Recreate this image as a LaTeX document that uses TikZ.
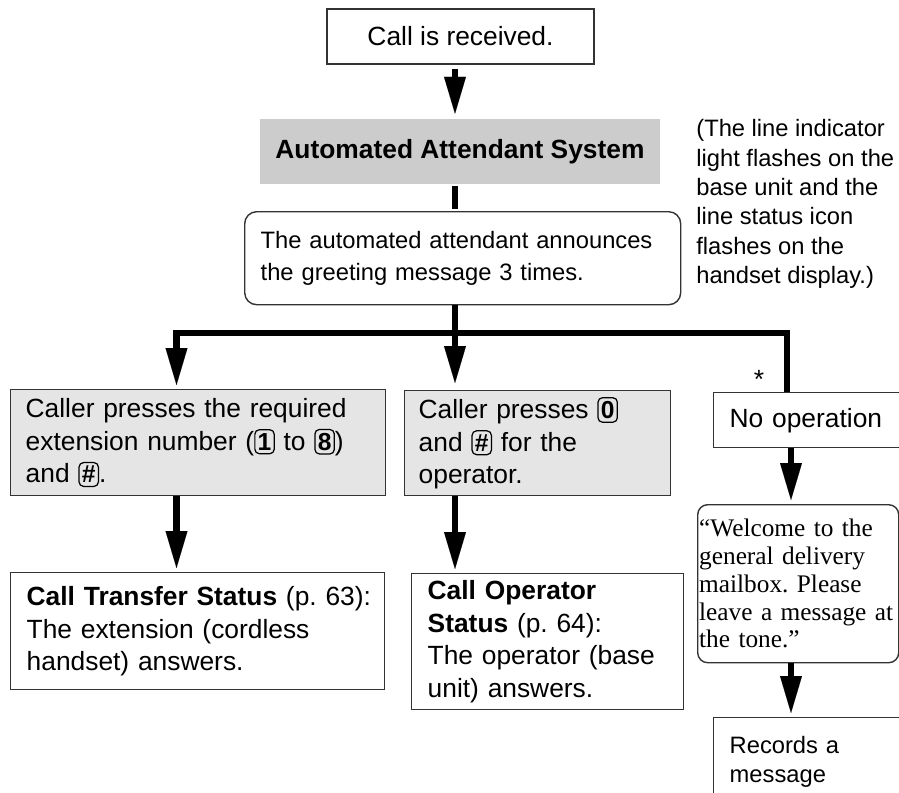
\documentclass[tikz,border=0pt]{standalone}
\usepackage{fontspec}
\setmainfont{Liberation Sans}
\newfontfamily\quotefont{Liberation Serif}
\usetikzlibrary{arrows.meta, positioning}

\newcommand{\fbig}{\frenchspacing\fontsize{15}{18.6}\selectfont}
\newcommand{\fsmall}{\frenchspacing\fontsize{13.5}{16.7}\selectfont}
% key on the handset, drawn as a small rounded box
\newcommand{\keycap}[1]{\tikz[baseline=(k.base)]\node[draw=black, fill=none, text=black,
    line width=0.7pt, rounded corners=2.5pt, inner xsep=1.6pt, inner ysep=2pt,
    minimum width=0pt, minimum height=0pt, text width={}, align=center, anchor=center,
    font=\bfseries\fontsize{14}{14}\selectfont] (k) {#1};}

\begin{document}
\begin{tikzpicture}[
    boxline/.style={draw=black!80, line width=0.8pt},
    textbox/.style={boxline, anchor=north west, align=left, inner ysep=0pt, font=\fbig},
    greybox/.style={textbox, fill=black!10},
    roundbox/.style={boxline, rounded corners=0.24cm, anchor=north west, align=left, inner ysep=0pt},
    bar/.style={line width=3.8pt, black},
    flow/.style={bar, -{Triangle[width=12.5pt, length=21pt, line width=0.01pt]}, shorten >=2.3pt}
]
    \useasboundingbox (0,0) rectangle (17.98,-15.84);

    % top of the chart
    \node[boxline, minimum width=5.34cm, minimum height=1.1cm, font=\fbig] (recv) at (9.21,-0.73) {Call is received.};
    \node[fill=black!20, minimum width=8cm, minimum height=1.3cm, font=\fbig\bfseries] (aas) at (9.2,-3.03) {Automated Attendant System};
    \node[roundbox, text width=8.08cm, inner xsep=0.32cm, minimum height=1.86cm,
          font=\frenchspacing\fontsize{13.5}{18}\selectfont] (annc) at (4.88,-4.22)
          {\mbox{The automated attendant announces}\\\mbox{the greeting message 3 times.}};
    \node[anchor=west, align=left, inner sep=0pt, font=\fsmall] (note) at (13.92,-4.08)
          {(The line indicator\\light flashes on the\\base unit and the\\line status icon\\flashes on the\\handset display.)};

    % the three choices
    \node[greybox, text width=6.9cm, inner xsep=0.3cm, minimum height=2.12cm] (pressA) at (0.2,-7.78)
          {\mbox{Caller presses the required}\\\mbox{extension number (\keycap{1} to \keycap{8})}\\\mbox{and \keycap{\#}.}};
    \node[greybox, text width=4.76cm, inner xsep=0.28cm, minimum height=2.1cm] (pressB) at (8.08,-7.8)
          {\mbox{Caller presses \keycap{0}}\\\mbox{and \keycap{\#} for the}\\operator.};
    \node[textbox, text width=3.2cm, inner xsep=0.32cm, minimum height=1.1cm] (noop) at (14.26,-7.84) {\mbox{No operation}};
    \node[font=\fbig] (star) at (15.18,-7.58) {*};

    % results
    \node[textbox, text width=6.84cm, inner xsep=0.32cm, minimum height=2.34cm] (statA) at (0.2,-11.44)
          {\mbox{\textbf{Call Transfer Status} (p. 63):}\\\mbox{The extension (cordless}\\\mbox{handset) answers.}};
    \node[textbox, text width=4.8cm, inner xsep=0.32cm, minimum height=2.72cm] (statB) at (8.22,-11.46)
          {\textbf{Call Operator}\\\mbox{\textbf{Status} (p. 64):}\\\mbox{The operator (base}\\\mbox{unit) answers.}};
    \node[roundbox, rounded corners=0.2cm, text width=3.96cm, inner xsep=0.03cm, minimum height=3.16cm,
          font=\quotefont\frenchspacing\fontsize{14.4}{15.8}\selectfont] (greet) at (13.94,-10.08)
          {\mbox{“Welcome to the}\\\mbox{general delivery}\\\mbox{mailbox. Please}\\\mbox{leave a message at}\\\mbox{the tone.”}};
    \node[textbox, text width=3.2cm, inner xsep=0.32cm, minimum height=1.76cm, font=\fsmall] (record) at (14.26,-14.34)
          {Records a\\message};

    % columns of the connectors
    \coordinate (colM) at (9.1,0);
    \coordinate (colA) at (3.53,0);
    \coordinate (colC) at (15.74,0);
    \coordinate (colD) at (15.82,0);
    \coordinate (split) at (9.1,-6.66);

    \draw[flow, shorten <=2.3pt, shorten >=2.8pt] (recv.south -| colM) -- (aas.north -| colM);
    \draw[bar, shorten <=1pt, shorten >=1pt] (aas.south -| colM) -- (annc.north -| colM);
    \draw[bar] (annc.south -| colM) -- (split);
    \draw[flow] (split) -| (pressA.north -| colA);
    \draw[flow, shorten >=4pt] (split) -- (pressB.north -| colM);
    \draw[bar] (split) -| (noop.north -| colC);
    \draw[flow] (pressA.south -| colA) -- (statA.north -| colA);
    \draw[flow] (pressB.south -| colM) -- (statB.north -| colM);
    \draw[flow] (noop.south -| colD) -- (greet.north -| colD);
    \draw[flow] (greet.south -| colD) -- (record.north -| colD);
\end{tikzpicture}
\end{document}
